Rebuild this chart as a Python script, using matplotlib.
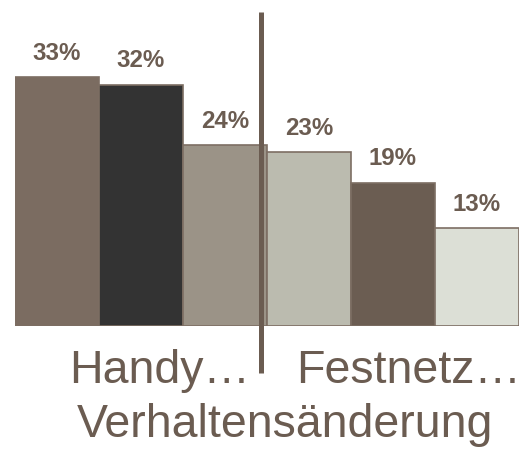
import matplotlib.pyplot as plt
from matplotlib.lines import Line2D

# values
values = [33, 32, 24, 23, 19, 13]
bar_colors = ['#7b6c61', '#333333', '#9b9387', '#bbbbaf', '#6b5d52', '#dcdfd6']
group_labels = ['Handy\u2026', 'Festnetz\u2026']
axis_title = 'Verhaltens\u00e4nderung'

text_color = '#6b5c51'
edge_color = '#7d6e63'

plt.rcParams['font.family'] = ['Liberation Sans', 'DejaVu Sans']

W, H = 524, 449
fig = plt.figure(figsize=(W / 100, H / 100), dpi=100)

# axes: bars span x 15..519 px, baseline at y 326 px, top at y 0
ax = fig.add_axes([15 / W, (H - 326) / H, 504 / W, 326 / H])
ax.set_xlim(-0.5, len(values) - 0.5)
ax.set_ylim(0, 326 / 7.545)
ax.axis('off')

x = range(len(values))
ax.bar(x, values, width=1.0, color=bar_colors, edgecolor=edge_color,
       linewidth=1.2, zorder=2)

for xi, v in zip(x, values):
    ax.annotate(f'{v}%', (xi, v), xytext=(0, 12.5), textcoords='offset points',
                ha='center', va='baseline', fontsize=17.3, fontweight='bold',
                color=text_color)

# separator line between the two groups
fig.add_artist(Line2D([260.5 / W, 260.5 / W], [(H - 12) / H, (H - 373) / H],
                      color='#6b5c51', linewidth=3.6, solid_capstyle='butt'))

fig.text(160 / W, (H - 383) / H, group_labels[0], ha='center', va='baseline',
         fontsize=33.5, color=text_color)
fig.text(409 / W, (H - 383) / H, group_labels[1], ha='center', va='baseline',
         fontsize=33.5, color=text_color)
fig.text(285 / W, (H - 437) / H, axis_title, ha='center', va='baseline',
         fontsize=33.5, color=text_color)

fig.savefig('out.png', dpi=100)
